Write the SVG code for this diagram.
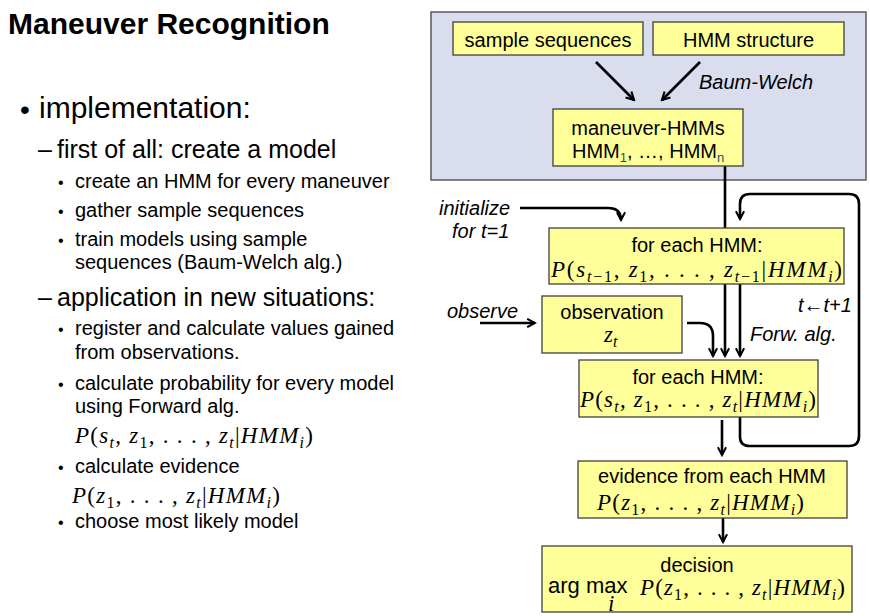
<svg xmlns="http://www.w3.org/2000/svg" width="870" height="616" viewBox="0 0 870 616">
<style>
.s{font-family:"Liberation Sans",Arial,sans-serif;fill:#000}
.it{font-style:italic}
.m{font-family:"Liberation Serif","Times New Roman",serif;font-style:italic;font-size:23px;fill:#000}
.u{font-style:normal}
.sb{font-size:16px}
.box{fill:#ffff99;stroke:#404040;stroke-width:1.3}
.c{fill:none;stroke:#000;stroke-width:2.6}
.bl{font-size:16px}
.t3{font-size:20px}
</style>
<defs>
<marker id="ah" viewBox="0 0 10 10" refX="8.5" refY="5" markerWidth="4" markerHeight="4" orient="auto" markerUnits="strokeWidth">
<path d="M1,1 L8.5,5 L1,9" fill="none" stroke="#000" stroke-width="2" stroke-linejoin="miter"/>
</marker>
</defs>
<rect width="870" height="616" fill="#fff"/>

<g id="left-text">
<text class="s" x="8" y="34" font-size="30" font-weight="bold">Maneuver Recognition</text>
<text class="s" x="20" y="119" font-size="28">•</text>
<text class="s" x="39" y="118" font-size="30">implementation:</text>
<text class="s" x="38" y="158" font-size="25">–</text>
<text class="s" x="57" y="158" font-size="25">first of all: create a model</text>
<text class="s bl" x="58" y="188">•</text>
<text class="s t3" x="75" y="188">create an HMM for every maneuver</text>
<text class="s bl" x="58" y="217">•</text>
<text class="s t3" x="75" y="217">gather sample sequences</text>
<text class="s bl" x="58" y="246">•</text>
<text class="s t3" x="75" y="246">train models using sample</text>
<text class="s t3" x="75" y="269">sequences (Baum-Welch alg.)</text>
<text class="s" x="38" y="306" font-size="25">–</text>
<text class="s" x="57" y="306" font-size="25">application in new situations:</text>
<text class="s bl" x="58" y="335">•</text>
<text class="s t3" x="75" y="335">register and calculate values gained</text>
<text class="s t3" x="75" y="359">from observations.</text>
<text class="s bl" x="58" y="390">•</text>
<text class="s t3" x="75" y="390">calculate probability for every model</text>
<text class="s t3" x="75" y="413">using Forward alg.</text>
<text class="m" x="75" y="443" textLength="238">P<tspan class="u">(</tspan>s<tspan class="sb" dy="5">t</tspan><tspan class="u" dy="-5">,</tspan> z<tspan class="sb u" dy="5">1</tspan><tspan class="u" dy="-5">, . . . ,</tspan> z<tspan class="sb" dy="5">t</tspan><tspan class="u" dy="-5">|</tspan>HMM<tspan class="sb" dy="5">i</tspan><tspan class="u" dy="-5">)</tspan></text>
<text class="s bl" x="58" y="473">•</text>
<text class="s t3" x="75" y="473">calculate evidence</text>
<text class="m" x="72" y="503" textLength="208">P<tspan class="u">(</tspan>z<tspan class="sb u" dy="5">1</tspan><tspan class="u" dy="-5">, . . . ,</tspan> z<tspan class="sb" dy="5">t</tspan><tspan class="u" dy="-5">|</tspan>HMM<tspan class="sb" dy="5">i</tspan><tspan class="u" dy="-5">)</tspan></text>
<text class="s bl" x="58" y="528">•</text>
<text class="s t3" x="75" y="528">choose most likely model</text>
</g>

<g id="panel">
<rect x="431" y="12" width="435" height="168" fill="#d9ddee" stroke="#5a5a5a" stroke-width="1.5"/>
</g>

<g id="connectors">
<line class="c" x1="596" y1="62" x2="634" y2="100" marker-end="url(#ah)"/>
<line class="c" x1="700" y1="62" x2="662" y2="100" marker-end="url(#ah)"/>
<line class="c" x1="725" y1="166" x2="725" y2="228"/>
<path class="c" d="M520,208 L608,208 Q621,208 621,220" marker-end="url(#ah)"/>
<line class="c" x1="480" y1="323" x2="535" y2="323" marker-end="url(#ah)"/>
<path class="c" d="M687,323 L700,323 Q713,323 713,336 L713,356" marker-end="url(#ah)"/>
<line class="c" x1="725" y1="284" x2="725" y2="356" marker-end="url(#ah)"/>
<line class="c" x1="740" y1="284" x2="740" y2="356" marker-end="url(#ah)"/>
<path class="c" d="M740,417 L740,437 Q740,446 750,446 L849,446 Q859,446 859,436 L859,204 Q859,194 849,194 L750,194 Q740,194 740,204 L740,219" marker-end="url(#ah)"/>
<line class="c" x1="722" y1="420" x2="722" y2="455" marker-end="url(#ah)"/>
<line class="c" x1="723" y1="518" x2="723" y2="542" marker-end="url(#ah)"/>
</g>

<g id="labels">
<text class="s it" x="699" y="89" font-size="20">Baum-Welch</text>
<text class="s it" x="439" y="215" font-size="20">initialize</text>
<text class="s it" x="452" y="238" font-size="20">for t=1</text>
<text class="s it" x="447" y="318" font-size="20">observe</text>
<text class="s it" x="798" y="312" font-size="20">t←t+1</text>
<text class="s it" x="750" y="341" font-size="20">Forw. alg.</text>
</g>

<g id="sample-sequences">
<rect class="box" x="453" y="22" width="190" height="33"/>
<text class="s" x="548" y="47" font-size="20" text-anchor="middle">sample sequences</text>
</g>
<g id="hmm-structure">
<rect class="box" x="653" y="22" width="191" height="33"/>
<text class="s" x="748.5" y="47" font-size="20" text-anchor="middle">HMM structure</text>
</g>
<g id="maneuver-hmms">
<rect class="box" x="553" y="109" width="190" height="57"/>
<text class="s" x="648" y="135" font-size="20" text-anchor="middle">maneuver-HMMs</text>
<text class="s" x="572" y="158" font-size="20">HMM<tspan font-size="13" dy="4" fill="#1a5566">1</tspan><tspan dy="-4">, …, HMM</tspan><tspan font-size="13" dy="4" fill="#1a5566">n</tspan></text>
</g>
<g id="for-each-1">
<rect class="box" x="549" y="228" width="295" height="56"/>
<text class="s" x="697" y="252" font-size="20" text-anchor="middle">for each HMM:</text>
<text class="m" x="551" y="277" textLength="291">P<tspan class="u">(</tspan>s<tspan class="sb" dy="5">t<tspan class="u">−1</tspan></tspan><tspan class="u" dy="-5">,</tspan> z<tspan class="sb u" dy="5">1</tspan><tspan class="u" dy="-5">, . . . ,</tspan> z<tspan class="sb" dy="5">t<tspan class="u">−1</tspan></tspan><tspan class="u" dy="-5">|</tspan>HMM<tspan class="sb" dy="5">i</tspan><tspan class="u" dy="-5">)</tspan></text>
</g>
<g id="observation">
<rect class="box" x="542" y="296" width="140" height="57"/>
<text class="s" x="612" y="319" font-size="20" text-anchor="middle">observation</text>
<text class="m" x="604" y="342">z<tspan class="sb" dy="5">t</tspan></text>
</g>
<g id="for-each-2">
<rect class="box" x="579" y="360" width="239" height="57"/>
<text class="s" x="698" y="384" font-size="20" text-anchor="middle">for each HMM:</text>
<text class="m" x="580" y="407" textLength="236">P<tspan class="u">(</tspan>s<tspan class="sb" dy="5">t</tspan><tspan class="u" dy="-5">,</tspan> z<tspan class="sb u" dy="5">1</tspan><tspan class="u" dy="-5">, . . . ,</tspan> z<tspan class="sb" dy="5">t</tspan><tspan class="u" dy="-5">|</tspan>HMM<tspan class="sb" dy="5">i</tspan><tspan class="u" dy="-5">)</tspan></text>
</g>
<g id="evidence">
<rect class="box" x="578" y="461" width="269" height="57"/>
<text class="s" x="712" y="483" font-size="20" text-anchor="middle">evidence from each HMM</text>
<text class="m" x="597" y="510" textLength="207">P<tspan class="u">(</tspan>z<tspan class="sb u" dy="5">1</tspan><tspan class="u" dy="-5">, . . . ,</tspan> z<tspan class="sb" dy="5">t</tspan><tspan class="u" dy="-5">|</tspan>HMM<tspan class="sb" dy="5">i</tspan><tspan class="u" dy="-5">)</tspan></text>
</g>
<g id="decision">
<rect class="box" x="542" y="546" width="310" height="66"/>
<text class="s" x="697" y="572" font-size="20" text-anchor="middle">decision</text>
<text class="s" x="548" y="593" font-size="22">arg max</text>
<text class="m" x="608" y="611" font-size="12">i</text>
<text class="m" x="640" y="595" textLength="205">P<tspan class="u">(</tspan>z<tspan class="sb u" dy="5">1</tspan><tspan class="u" dy="-5">, . . . ,</tspan> z<tspan class="sb" dy="5">t</tspan><tspan class="u" dy="-5">|</tspan>HMM<tspan class="sb" dy="5">i</tspan><tspan class="u" dy="-5">)</tspan></text>
</g>
</svg>
